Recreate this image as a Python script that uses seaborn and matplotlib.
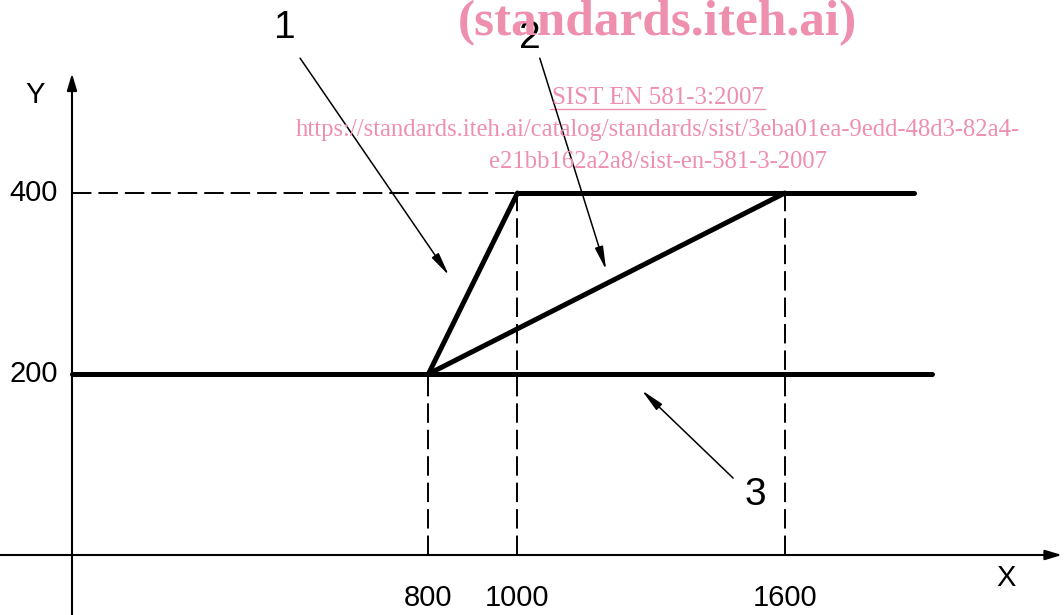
import matplotlib
matplotlib.use("Agg")
import matplotlib.pyplot as plt
import seaborn as sns

# characteristic: (1) steep ramp, (2) slow ramp, (3) lower limit
ramp_fast_x = [800, 1000]
ramp_fast_y = [200, 400]
ramp_slow_x = [800, 1600]
ramp_slow_y = [200, 400]
low_x = [0, 1930]
low_y = [200, 200]
high_x = [1000, 1890]
high_y = [400, 400]

x_ticks = [800, 1000, 1600]
x_tick_labels = ["800", "1000", "1600"]
y_ticks = [200, 400]
y_tick_labels = ["200", "400"]
# dashed guides: x position, top level
guide_x = [800, 1000, 1600]
guide_top = [200, 400, 400]

sns.set_style("white")
plt.rcParams["font.family"] = ["Liberation Sans", "DejaVu Sans"]
plt.rcParams["text.color"] = "black"

fig = plt.figure(figsize=(10.64, 6.15), dpi=100)
ax = fig.add_axes([0, 0, 1, 1])
ax.set_xlim(-161.6, 2226.7)
ax.set_ylim(-66.3, 613.3)
ax.axis("off")

ink = "black"
dash = (0, (10, 3.6))

# axes with arrows
ax.annotate("", xy=(0, 532), xytext=(0, -66.3),
            arrowprops=dict(arrowstyle="-|>,head_length=1.0,head_width=0.3",
                            lw=1.5, color=ink, shrinkA=0, shrinkB=0))
ax.annotate("", xy=(2222, 0), xytext=(-161.6, 0),
            arrowprops=dict(arrowstyle="-|>,head_length=1.0,head_width=0.3",
                            lw=1.5, color=ink, shrinkA=0, shrinkB=0))

# dashed guide lines
ax.hlines(400, 0, 1000, colors=ink, lw=1.4, linestyles=dash)
ax.vlines(guide_x, 0, guide_top, colors=ink, lw=1.4, linestyles=dash)

# thick characteristic lines
for xs, ys in [(low_x, low_y), (high_x, high_y),
               (ramp_fast_x, ramp_fast_y), (ramp_slow_x, ramp_slow_y)]:
    sns.lineplot(x=xs, y=ys, ax=ax, color=ink, linewidth=3.6,
                 estimator=None, sort=False, legend=False)

# tick labels
for v, lab in zip(x_ticks, x_tick_labels):
    ax.text(v, -47.5, lab, ha="center", va="center", fontsize=21)
for v, lab in zip(y_ticks, y_tick_labels):
    ax.text(-31, v, lab, ha="right", va="center", fontsize=21)
ax.text(2097, -25, "X", ha="center", va="center", fontsize=21)
ax.text(-83, 508, "Y", ha="center", va="center", fontsize=21)

# leaders
head = "-|>,head_length=1.4,head_width=0.25"
leaders = [("1", (478, 582), (512, 549), (846, 309)),
           ("2", (1028, 571), (1050, 549), (1199, 315)),
           ("3", (1533, 66), (1484, 85), (1279, 182))]
for lab, pos, start, tip in leaders:
    ax.text(pos[0], pos[1], lab, ha="center", va="center", fontsize=28)
    ax.annotate("", xy=tip, xytext=start,
                arrowprops=dict(arrowstyle=head, lw=1.1, color=ink,
                                shrinkA=0, shrinkB=0))

# watermark
pink = "#ef8fae"
serif = ["Liberation Serif", "DejaVu Serif"]
ax.text(0.618, 0.962, "(standards.iteh.ai)", transform=ax.transAxes,
        ha="center", va="center", fontsize=37, fontweight="bold",
        color=pink, family=serif)
ax.text(0.618, 0.840, "SIST EN 581-3:2007", transform=ax.transAxes,
        ha="center", va="center", fontsize=18, color=pink, family=serif)
ax.plot([0.517, 0.719], [0.822, 0.822], transform=ax.transAxes,
        color=pink, lw=1.0)
ax.text(0.618, 0.788,
        "https://standards.iteh.ai/catalog/standards/sist/3eba01ea-9edd-48d3-82a4-",
        transform=ax.transAxes, ha="center", va="center", fontsize=17.7,
        color=pink, family=serif)
ax.text(0.618, 0.736, "e21bb162a2a8/sist-en-581-3-2007",
        transform=ax.transAxes, ha="center", va="center", fontsize=17.7,
        color=pink, family=serif)

fig.savefig("out.png", dpi=100)
